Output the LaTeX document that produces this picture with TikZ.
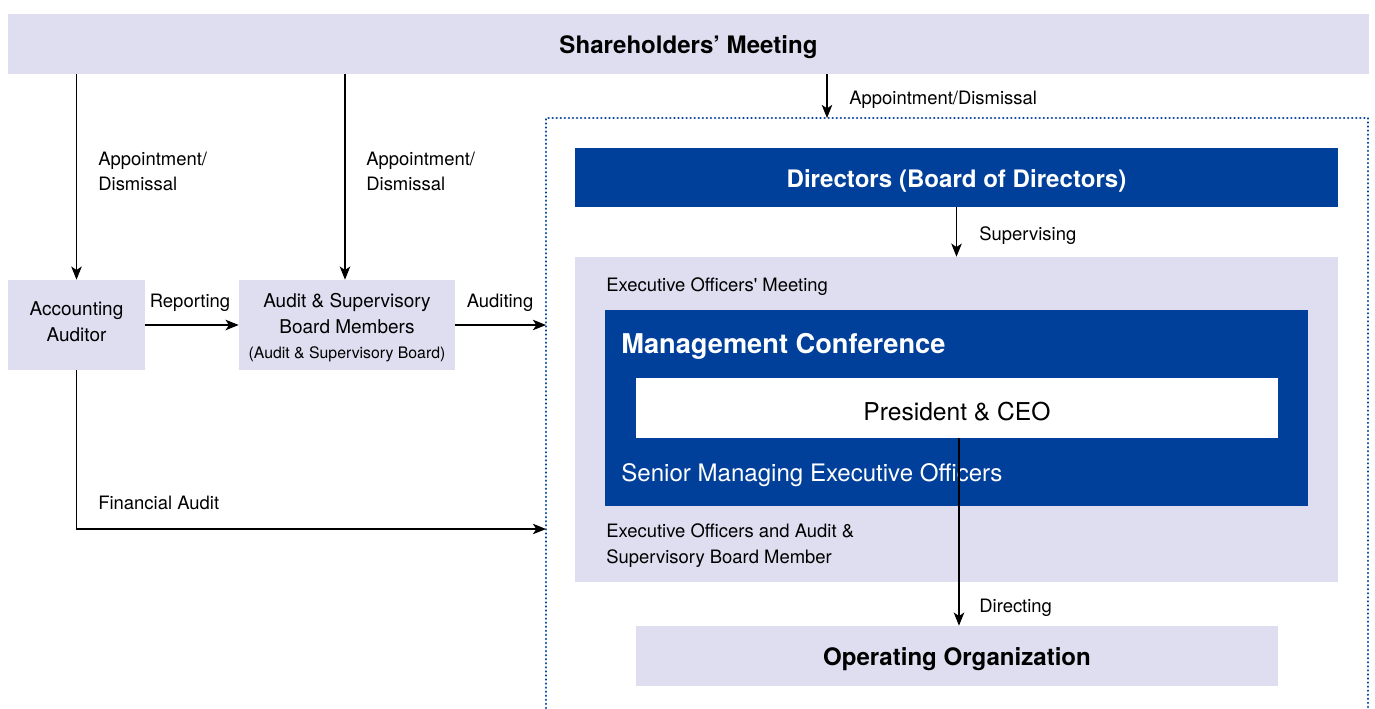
\documentclass[tikz,border=0pt]{standalone}
\usepackage{fontspec}
\setmainfont{TeX Gyre Heros}
\usepackage{xcolor}
\usepackage{tikz}
\usetikzlibrary{arrows.meta}
\definecolor{lav}{HTML}{DFDEF0}
\definecolor{navy}{HTML}{00409A}
\begin{document}
\begin{tikzpicture}[x=0.02cm,y=-0.02cm,>={Stealth[length=7.5pt,width=6pt,inset=2pt]},
  lbox/.style={fill=lav,inner sep=0pt},
  bbox/.style={fill=navy,inner sep=0pt},
  txt/.style={inner sep=0pt,align=center,yshift=-2pt},
  lbl/.style={font=\fontsize{10.5}{14.5}\selectfont,inner sep=0pt,align=left,yshift=-1.5pt},
  arr/.style={->,line width=0.6pt},
  title/.style={font=\bfseries\fontsize{13.7}{16}\selectfont}]
\useasboundingbox (0,0) rectangle (1375,708);
% boxes
\node[lbox,minimum width=27.22cm,minimum height=1.2cm](share)at(688.5,44){};
\node[bbox,minimum width=15.26cm,minimum height=1.18cm](dir)at(956.5,177.5){};
\node[lbox,minimum width=15.26cm,minimum height=6.5cm](exec)at(956.5,419.5){};
\node[bbox,minimum width=14.06cm,minimum height=3.92cm](mgmt)at(956.5,408){};
\node[fill=white,inner sep=0pt,minimum width=12.84cm,minimum height=1.2cm](pres)at(957,408){};
\node[lbox,minimum width=12.84cm,minimum height=1.2cm](oper)at(957,656){};
\node[lbox,minimum width=2.74cm,minimum height=1.8cm](acc)at(76.5,325){};
\node[lbox,minimum width=4.32cm,minimum height=1.8cm](aud)at(347,325){};
% texts in boxes
\node[txt,title](sharet)at(share){Shareholders’ Meeting};
\node[txt,title,text=white](dirt)at(dir){Directors (Board of Directors)};
\node[txt,font=\fontsize{14}{16}\selectfont](prest)at(pres){President \& CEO};
\node[txt,title](opert)at(oper){Operating Organization};
\node[txt,yshift=3.7pt,font=\fontsize{10.8}{14.7}\selectfont](acct)at(acc){Accounting\\Auditor};
\node[txt,yshift=0.3pt,font=\fontsize{10.8}{14.5}\selectfont](audt)at(aud){Audit \& Supervisory\\Board Members\\{\fontsize{9}{11}\selectfont(Audit \& Supervisory Board)}};
\node[txt,anchor=west,text=white,font=\bfseries\fontsize{15.5}{18}\selectfont](mgmtt)at(621,343){Management Conference};
\node[txt,anchor=west,text=white,font=\fontsize{13.7}{16}\selectfont](senior)at(621,472){Senior Managing Executive Officers};
\node[lbl,anchor=west](exect)at(606,284){Executive Officers\textquotesingle{} Meeting};
\node[lbl,anchor=west](execb)at(606,543){Executive Officers and Audit \&\\Supervisory Board Member};
% frame
\coordinate(fbl)at(546,712);\coordinate(ftl)at(546,118);
\coordinate(ftr)at(1368,118);\coordinate(fbr)at(1368,712);
\coordinate(ftop)at(827,118);\coordinate(faud)at(546,325);\coordinate(ffin)at(546,529);
\draw[navy,line width=1.5pt,line cap=round,dash pattern=on 0.01pt off 2.3pt](fbl)--(ftl)--(ftr)--(fbr);
% connectors
\draw[arr](share.south-|acc.north)--(acc.north);
\draw[arr]([xshift=-0.04cm]share.south-|aud.north)--([xshift=-0.04cm]aud.north);
\draw[arr](share.south-|ftop)--(ftop);
\draw[arr](dir.south)--(exec.north);
\draw[arr](acc.east)--(aud.west);
\draw[arr](aud.east)--(faud);
\draw[arr](acc.south)|-(ffin);
\draw[arr]([xshift=0.04cm]pres.south)--([xshift=0.04cm]oper.north);
% labels
\node[lbl,anchor=west](l1)at(98,169){Appointment/\\Dismissal};
\node[lbl,anchor=west](l2)at(366,169){Appointment/\\Dismissal};
\node[lbl,anchor=west](l3)at(849,97){Appointment/Dismissal};
\node[lbl,anchor=west](l4)at(979,233){Supervising};
\node[lbl](l5)at(190,300){Reporting};
\node[lbl](l6)at(500,300){Auditing};
\node[lbl,anchor=west](l7)at(98,500){Financial Audit};
\node[lbl,anchor=west](l8)at(979,605){Directing};
\end{tikzpicture}
\end{document}
